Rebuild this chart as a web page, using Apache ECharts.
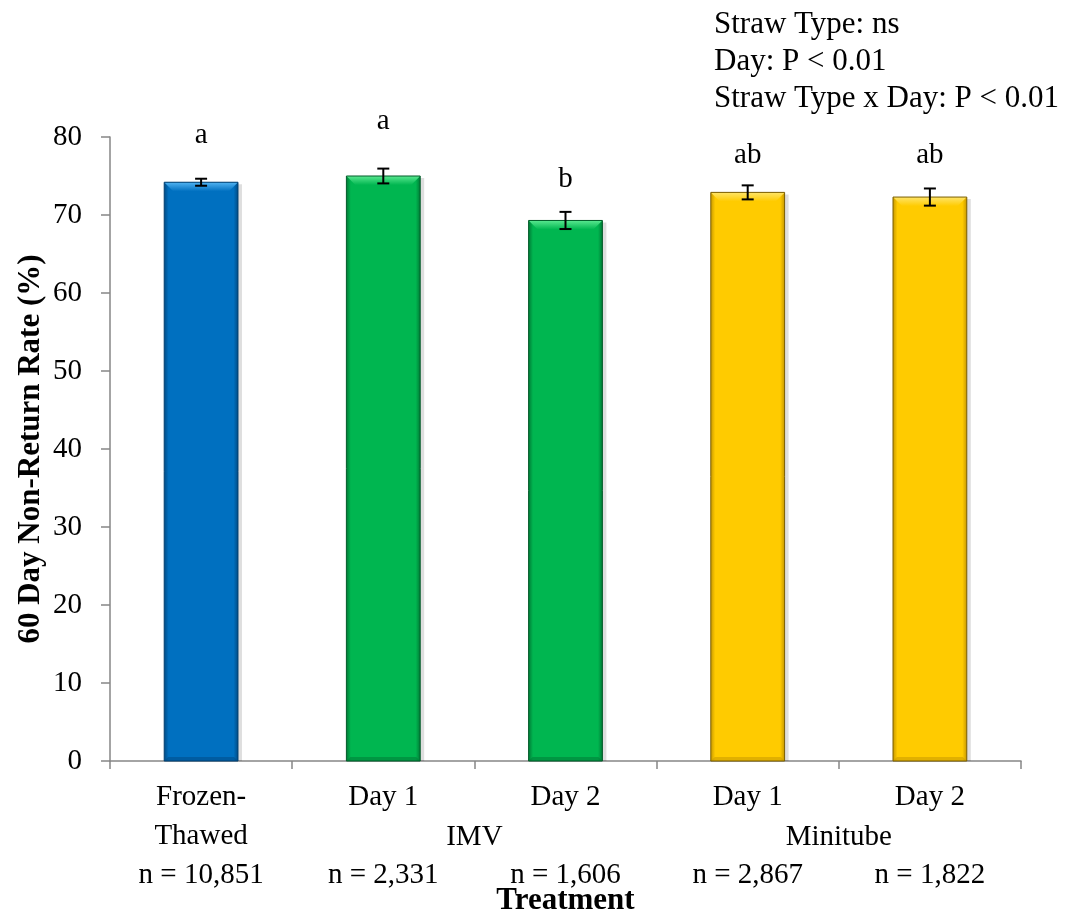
<!DOCTYPE html>
<html>
<head>
<meta charset="utf-8">
<script src="https://cdn.jsdelivr.net/npm/echarts@6/dist/echarts.min.js"></script>
<style>html,body{margin:0;padding:0;background:#fff;}#c{width:1073px;height:918px;}</style>
</head>
<body>
<div id="c"></div>
<script>
// ---- data ----
var categories = ['Frozen-\nThawed', 'Day 1', 'Day 2', 'Day 1', 'Day 2'];
var sampleSizes = ['n = 10,851', 'n = 2,331', 'n = 1,606', 'n = 2,867', 'n = 1,822'];
var groupNames = ['IMV', 'Minitube'];
var groupCenters = [1.5, 3.5];
var categoryGroup = [0, 1, 1, 2, 2];
var values = [74.2, 75.0, 69.3, 72.9, 72.3];
var errors = [0.45, 0.95, 1.1, 0.9, 1.1];
var letters = ['a', 'a', 'b', 'ab', 'ab'];
var letterLevels = [80.2, 82.0, 74.6, 77.6, 77.6];
var yTicks = { min: 0, max: 80, interval: 10 };
var statsLines = ['Straw Type: ns', 'Day: P < 0.01', 'Straw Type x Day: P < 0.01'];

// ---- styles ----
var FONT = '"Liberation Serif", "Times New Roman", serif';
var palettes = [
  { main: '#0070C0', light: '#52B4F2', dark: '#004C86', edge: '#003F70' },
  { main: '#00B650', light: '#5AE890', dark: '#007C36', edge: '#005A28' },
  { main: '#FFCB00', light: '#FFE56A', dark: '#C99A00', edge: '#7A5E00' }
];
var axisGray = '#868686';

var chart = echarts.init(document.getElementById('c'));

function labelFor(i) {
  var c = categories[i];
  var lines = c.split('\n');
  if (lines.length === 1) return c + '\n\n' + sampleSizes[i];
  return c + '\n' + sampleSizes[i];
}

function renderBar(params, api) {
  var i = api.value(0), v = api.value(1);
  var top = api.coord([i, v]);
  var base = api.coord([i, 0]);
  var w = api.size([1, 0])[0] * 0.405;
  var x0 = top[0] - w / 2, x1 = top[0] + w / 2, y0 = top[1], y1 = base[1];
  var p = palettes[categoryGroup[i]];
  var d = 9, e = 4;
  var G = echarts.graphic.LinearGradient;
  return {
    type: 'group',
    children: [
      { type: 'rect', shape: { x: x0 + 2, y: y0 + 2, width: w + 2, height: y1 - y0 - 2 },
        style: { fill: 'rgba(0,0,0,0.13)' } },
      { type: 'rect', shape: { x: x0, y: y0, width: w, height: y1 - y0 },
        style: { fill: new G(0, 0, 1, 0, [
          { offset: 0, color: p.dark }, { offset: 0.06, color: p.main },
          { offset: 0.94, color: p.main }, { offset: 1, color: p.dark }]) } },
      { type: 'polygon', shape: { points: [[x0, y0], [x1, y0], [x1 - d, y0 + d], [x0 + d, y0 + d]] },
        style: { fill: new G(0, 0, 0, 1, [
          { offset: 0, color: p.light }, { offset: 1, color: p.main }]) } },
      { type: 'polygon', shape: { points: [[x0, y1], [x1, y1], [x1 - e, y1 - e], [x0 + e, y1 - e]] },
        style: { fill: p.dark, opacity: 0.55 } },
      { type: 'rect', shape: { x: x0, y: y0, width: w, height: y1 - y0 },
        style: { fill: 'none', stroke: p.edge, lineWidth: 1 } }
    ]
  };
}

function renderError(params, api) {
  var i = api.value(0), v = api.value(1), err = api.value(2);
  var hi = api.coord([i, v + err]);
  var lo = api.coord([i, v - err]);
  var cap = 6;
  var st = { stroke: '#000', lineWidth: 2 };
  return {
    type: 'group',
    children: [
      { type: 'line', shape: { x1: hi[0], y1: hi[1], x2: lo[0], y2: lo[1] }, style: st },
      { type: 'line', shape: { x1: hi[0] - cap, y1: hi[1], x2: hi[0] + cap, y2: hi[1] }, style: st },
      { type: 'line', shape: { x1: lo[0] - cap, y1: lo[1], x2: lo[0] + cap, y2: lo[1] }, style: st }
    ]
  };
}

function renderLetter(params, api) {
  var i = api.value(0), lv = api.value(1);
  var pt = api.coord([i, lv]);
  return {
    type: 'text',
    x: pt[0], y: pt[1],
    style: { text: letters[i], fill: '#000', font: '29px ' + FONT, align: 'center', verticalAlign: 'middle' }
  };
}

var barData = values.map(function (v, i) { return [i, v]; });
var errData = values.map(function (v, i) { return [i, v, errors[i]]; });
var letterData = letterLevels.map(function (v, i) { return [i, v]; });

chart.setOption({
  animation: false,
  title: {
    text: statsLines.join('\n'),
    left: 714, top: 6, padding: 0,
    textStyle: { fontFamily: FONT, fontSize: 31, fontWeight: 'normal', color: '#000', lineHeight: 37 }
  },
  grid: { left: 110, right: 52, top: 137, bottom: 157, containLabel: false, outerBoundsMode: 'none' },
  xAxis: [
    {
      type: 'category',
      data: categories.map(function (c, i) { return labelFor(i); }),
      axisLine: { onZero: false, lineStyle: { color: axisGray, width: 1.5 } },
      axisTick: { show: true, length: 8, lineStyle: { color: axisGray, width: 1.5 } },
      axisLabel: { fontFamily: FONT, fontSize: 29, color: '#000', lineHeight: 39, margin: 17, interval: 0 },
      name: 'Treatment',
      nameLocation: 'middle',
      nameGap: 124,
      nameMoveOverlap: false,
      nameTextStyle: { fontFamily: FONT, fontSize: 31, fontWeight: 'bold', color: '#000' }
    },
    {
      type: 'value',
      min: -0.5, max: 4.5,
      position: 'bottom',
      axisLine: { show: false, onZero: false },
      axisTick: { show: false },
      splitLine: { show: false },
      axisLabel: {
        customValues: groupCenters,
        formatter: function (v) {
          var k = groupCenters.indexOf(v);
          return k >= 0 ? groupNames[k] : '';
        },
        fontFamily: FONT, fontSize: 29, color: '#000', lineHeight: 39, margin: 57
      }
    }
  ],
  yAxis: {
    type: 'value',
    min: yTicks.min, max: yTicks.max, interval: yTicks.interval,
    axisLine: { show: true, onZero: false, lineStyle: { color: axisGray, width: 1.5 } },
    axisTick: { show: true, length: 9, lineStyle: { color: axisGray, width: 1.5 } },
    splitLine: { show: false },
    axisLabel: { fontFamily: FONT, fontSize: 29, color: '#000', margin: 28 },
    name: '60 Day Non-Return Rate (%)',
    nameLocation: 'middle',
    nameGap: 64,
    nameMoveOverlap: false,
    nameTextStyle: { fontFamily: FONT, fontSize: 31, fontWeight: 'bold', color: '#000' }
  },
  series: [
    { type: 'custom', renderItem: renderBar, data: barData, xAxisIndex: 0, clip: false, z: 2 },
    { type: 'custom', renderItem: renderError, data: errData, xAxisIndex: 0, clip: false, z: 3 },
    { type: 'custom', renderItem: renderLetter, data: letterData, xAxisIndex: 0, clip: false, z: 4 }
  ]
});
</script>
</body>
</html>
